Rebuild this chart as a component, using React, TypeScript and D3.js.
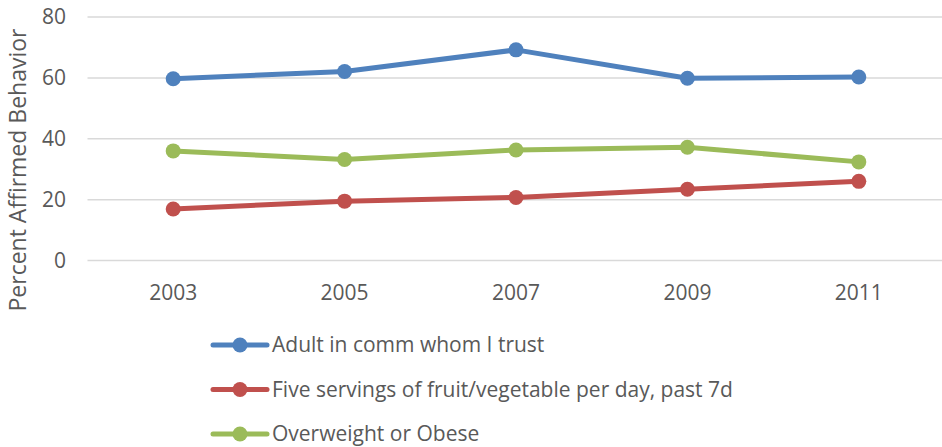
import React, { useEffect, useRef } from 'react';
import * as d3 from 'd3';

const years = ['2003', '2005', '2007', '2009', '2011'];
const seriesNames = [
  'Adult in comm whom I trust',
  'Five servings of fruit/vegetable per day, past 7d',
  'Overweight or Obese',
];
const trustValues = [59.7, 62.1, 69.2, 59.9, 60.3];
const fruitValues = [16.9, 19.5, 20.7, 23.4, 26.0];
const obeseValues = [36.0, 33.2, 36.3, 37.2, 32.4];
const seriesColors = ['#4F81BD', '#C0504D', '#9BBB59'];
const yTicks = [0, 20, 40, 60, 80];

const W = 942;
const H = 447;
const FONT = "'Open Sans', 'Liberation Sans', sans-serif";

export default function App() {
  const svgRef = useRef<SVGSVGElement>(null);

  useEffect(() => {
    if (!svgRef.current) return;
    const svg = d3.select(svgRef.current);
    svg.selectAll('*').remove();

    const x = d3.scaleBand().domain(years).range([87.5, 944.5]);
    const y = d3.scaleLinear().domain([0, 80]).range([260.5, 17]);

    // gridlines
    svg.append('g')
      .selectAll('line')
      .data(yTicks)
      .enter()
      .append('line')
      .attr('x1', 87.5)
      .attr('x2', W)
      .attr('y1', d => y(d))
      .attr('y2', d => y(d))
      .attr('stroke', '#D9D9D9')
      .attr('stroke-width', 1.5);

    // y tick labels
    svg.append('g')
      .selectAll('text')
      .data(yTicks)
      .enter()
      .append('text')
      .attr('x', 66)
      .attr('y', d => y(d))
      .attr('dy', '0.35em')
      .attr('text-anchor', 'end')
      .style('font-family', FONT)
      .style('font-size', '21px')
      .style('fill', '#595959')
      .text(d => d);

    // x tick labels
    svg.append('g')
      .selectAll('text')
      .data(years)
      .enter()
      .append('text')
      .attr('x', d => x(d)! + x.bandwidth() / 2)
      .attr('y', 300)
      .attr('text-anchor', 'middle')
      .style('font-family', FONT)
      .style('font-size', '21px')
      .style('fill', '#595959')
      .text(d => d);

    // axis title
    svg.append('text')
      .attr('transform', `translate(26, 170) rotate(-90)`)
      .attr('text-anchor', 'middle')
      .style('font-family', FONT)
      .style('font-size', '23px')
      .style('fill', '#595959')
      .text('Percent Affirmed Behavior');

    const allSeries = [trustValues, fruitValues, obeseValues];
    const line = d3.line<number>()
      .x((_, i) => x(years[i])! + x.bandwidth() / 2)
      .y(d => y(d));

    allSeries.forEach((vals, si) => {
      const g = svg.append('g');
      g.append('path')
        .datum(vals)
        .attr('d', line)
        .attr('fill', 'none')
        .attr('stroke', seriesColors[si])
        .attr('stroke-width', 5)
        .attr('stroke-linejoin', 'round');
      g.selectAll('circle')
        .data(vals)
        .enter()
        .append('circle')
        .attr('cx', (_, i) => x(years[i])! + x.bandwidth() / 2)
        .attr('cy', d => y(d))
        .attr('r', 7.5)
        .attr('fill', seriesColors[si]);
    });

    // legend
    const legendY = d3.scalePoint<string>().domain(seriesNames).range([345, 434]);
    const lg = svg.append('g');
    seriesNames.forEach((name, si) => {
      const ly = legendY(name)!;
      lg.append('line')
        .attr('x1', 213)
        .attr('x2', 267)
        .attr('y1', ly)
        .attr('y2', ly)
        .attr('stroke', seriesColors[si])
        .attr('stroke-width', 5)
        .attr('stroke-linecap', 'round');
      lg.append('circle')
        .attr('cx', 240)
        .attr('cy', ly)
        .attr('r', 7.5)
        .attr('fill', seriesColors[si]);
      lg.append('text')
        .attr('x', 272)
        .attr('y', ly)
        .attr('dy', '0.35em')
        .style('font-family', FONT)
        .style('font-size', '21px')
        .style('fill', '#595959')
        .text(name);
    });
  }, []);

  return (
    <svg
      ref={svgRef}
      width={W}
      height={H}
      style={{ position: 'absolute', left: 0, top: 0, background: '#fff' }}
    />
  );
}
